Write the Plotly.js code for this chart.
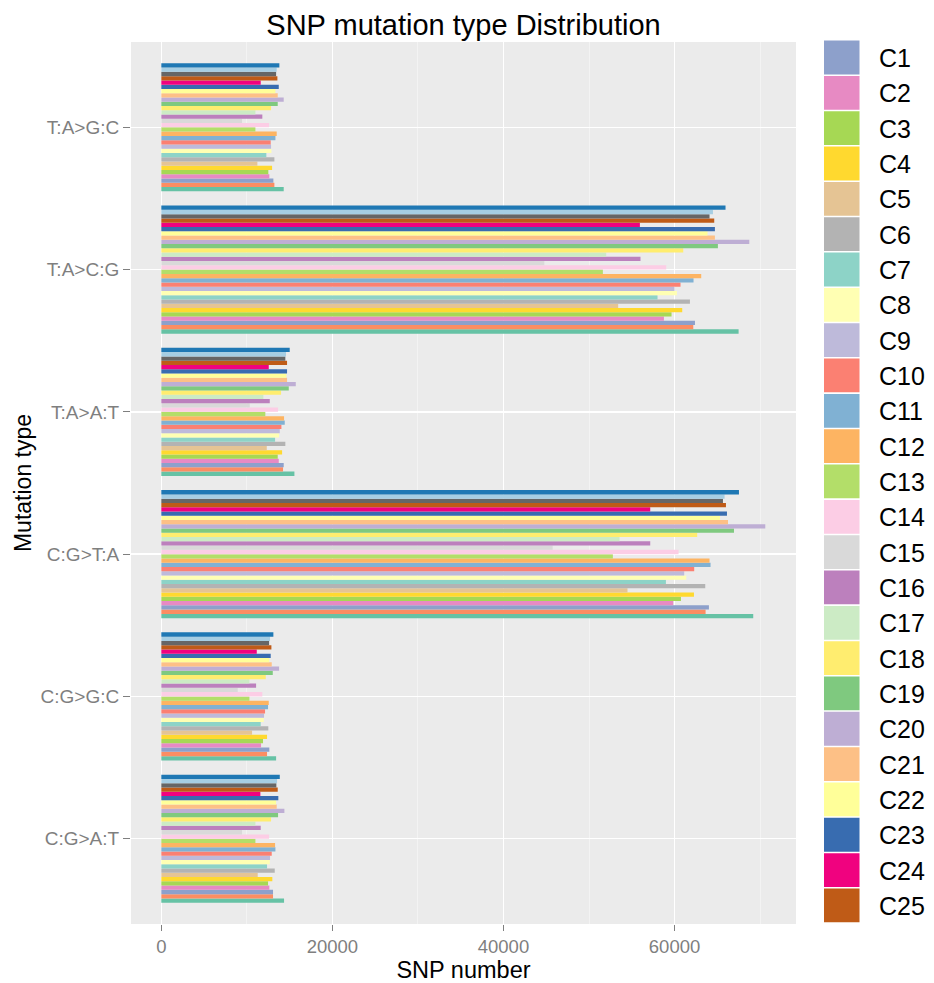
<!DOCTYPE html>
<html>
<head>
<meta charset="utf-8">
<script src="https://cdn.plot.ly/plotly-3.0.1.min.js"></script>
<style>html,body{margin:0;padding:0;background:#fff;}#chart{width:934px;height:983px;}</style>
</head>
<body>
<div id="chart"></div>
<script>
// Mutation types, bottom to top
const categories = ['C:G>A:T', 'C:G>G:C', 'C:G>T:A', 'T:A>A:T', 'T:A>C:G', 'T:A>G:C'];

// Series names (first two and last three are outside the visible legend)
const seriesNames = ['P1', 'P2', 'C1', 'C2', 'C3', 'C4', 'C5', 'C6', 'C7', 'C8', 'C9', 'C10',
  'C11', 'C12', 'C13', 'C14', 'C15', 'C16', 'C17', 'C18', 'C19', 'C20', 'C21', 'C22', 'C23',
  'C24', 'C25', 'C26', 'C27', 'C28'];

// Values per series, in category order above
const vP1  = [14350, 13420, 69200, 15560, 67490, 14310];
const vP2  = [13060, 12360, 63630, 14230, 62190, 13220];
const vC1  = [13060, 12630, 64020, 14310, 62390, 13100];
const vC2  = [12630, 11660, 59850, 13730, 58760, 12630];
const vC3  = [12480, 11890, 60750, 13610, 59650, 12510];
const vC4  = [12980, 12360, 62270, 14120, 60900, 12950];
const vC5  = [11270, 10610, 54500, 12330, 53410, 11230];
const vC6  = [13260, 12510, 63590, 14500, 61800, 13220];
const vC7  = [12360, 11620, 58990, 13300, 58010, 12280];
const vC8  = [12680, 11980, 61370, 13770, 60280, 12870];
const vC9  = [12710, 12010, 61130, 13850, 60000, 12830];
const vC10 = [12910, 12130, 62300, 14040, 60700, 12790];
const vC11 = [13340, 12480, 64210, 14430, 62220, 13340];
const vC12 = [13300, 12560, 64090, 14350, 63120, 13490];
const vC13 = [11000, 10300, 52790, 12160, 51620, 11000];
const vC14 = [12600, 11810, 60470, 13650, 59030, 12600];
const vC15 = [9440, 8930, 45750, 10340, 44780, 9440];
const vC16 = [11620, 11080, 57160, 12680, 56020, 11810];
const vC17 = [11000, 10300, 53570, 11930, 52010, 11000];
const vC18 = [12830, 12210, 62650, 14000, 61020, 12830];
const vC19 = [13650, 13030, 66950, 14900, 65070, 13610];
const vC20 = [14390, 13770, 70610, 15720, 68740, 14310];
const vC21 = [13490, 12910, 66250, 14700, 64720, 13610];
const vC22 = [13420, 12630, 65310, 14620, 63860, 13340];
const vC23 = [13680, 12790, 66130, 14700, 64720, 13730];
const vC24 = [11580, 11160, 57160, 12560, 55950, 11620];
const vC25 = [13610, 12870, 66010, 14700, 64640, 13570];
const vC26 = [13450, 12600, 65660, 14500, 64090, 13420];
const vC27 = [13530, 12710, 65850, 14580, 64490, 13490];
const vC28 = [13850, 13100, 67530, 15010, 65960, 13800];

const seriesValues = [vP1, vP2, vC1, vC2, vC3, vC4, vC5, vC6, vC7, vC8, vC9, vC10, vC11, vC12,
  vC13, vC14, vC15, vC16, vC17, vC18, vC19, vC20, vC21, vC22, vC23, vC24, vC25, vC26, vC27, vC28];

const xTickVals = [0, 20000, 40000, 60000];
const xTickText = ['0', '20000', '40000', '60000'];

// Style: colours per series
const colors = ['#66C2A5', '#FC8D62', '#8DA0CB', '#E78AC3', '#A6D854', '#FFD92F', '#E5C494', '#B3B3B3',
  '#8DD3C7', '#FFFFB3', '#BEBADA', '#FB8072', '#80B1D3', '#FDB462', '#B3DE69', '#FCCDE5', '#D9D9D9',
  '#BC80BD', '#CCEBC5', '#FFED6F', '#7FC97F', '#BEAED4', '#FDC086', '#FFFF99', '#386CB0', '#F0027F',
  '#BF5B17', '#666666', '#A6CEE3', '#1F78B4'];

const legendFirst = 2, legendLast = 26; // indices of C1..C25

const traces = seriesNames.map((nm, i) => ({
  type: 'bar',
  orientation: 'h',
  name: nm,
  y: categories,
  x: seriesValues[i],
  marker: {color: colors[i], line: {width: 0}},
  showlegend: false,
  hoverinfo: 'name+x'
}));

// geometry (px)
const W = 934, H = 983;
const mL = 131, mR = 138, mT = 42, mB = 59;
const pw = W - mL - mR, ph = H - mT - mB;
const px2x = p => (p - mL) / pw;
const py2y = p => (H - mB - p) / ph;

const shapes = [];
const annotations = [];
for (let i = legendFirst; i <= legendLast; i++) {
  const k = i - legendFirst;
  const cy = 57.5 + k * 35.33;
  shapes.push({
    type: 'rect', xref: 'paper', yref: 'paper',
    x0: px2x(824), x1: px2x(859.5), y0: py2y(cy + 16.9), y1: py2y(cy - 16.9),
    fillcolor: colors[i], line: {width: 0}, layer: 'above'
  });
  annotations.push({
    xref: 'paper', yref: 'paper', x: px2x(877), y: py2y(cy + 0.5),
    xanchor: 'left', yanchor: 'middle', showarrow: false,
    text: seriesNames[i],
    font: {family: 'Liberation Sans, Arial, sans-serif', size: 25, color: '#000'}
  });
}

const layout = {
  width: W, height: H,
  margin: {l: mL, r: mR, t: mT, b: mB, pad: 0},
  paper_bgcolor: '#FFFFFF',
  plot_bgcolor: '#EBEBEB',
  font: {family: 'Liberation Sans, Arial, sans-serif', color: '#000'},
  title: {
    text: 'SNP mutation type Distribution',
    font: {size: 29, color: '#000'},
    xref: 'paper', x: 0.5, xanchor: 'center',
    yref: 'container', y: 1 - 25 / H, yanchor: 'middle'
  },
  barmode: 'group',
  bargap: 0.1,
  bargroupgap: 0,
  showlegend: false,
  xaxis: {
    range: [-3544, 74200],
    tickvals: xTickVals, ticktext: xTickText,
    showgrid: true, gridcolor: '#FFFFFF', gridwidth: 1.6,
    minor: {tickvals: [10000, 30000, 50000, 70000], showgrid: true, gridcolor: '#F5F5F5', gridwidth: 0.8, ticks: ''},
    zeroline: false, showline: false,
    ticks: 'outside', ticklen: 6, tickwidth: 1.2, tickcolor: '#7F7F7F',
    ticklabelstandoff: 0,
    tickfont: {size: 18.5, color: '#7F7F7F'},
    title: {text: 'SNP number', font: {size: 23.5, color: '#000'}, standoff: 6},
    fixedrange: true
  },
  yaxis: {
    type: 'category',
    categoryorder: 'array', categoryarray: categories,
    range: [-0.6, 5.6],
    showgrid: true, gridcolor: '#FFFFFF', gridwidth: 1.6,
    zeroline: false, showline: false,
    ticks: 'outside', ticklen: 7, tickwidth: 1.2, tickcolor: '#7F7F7F',
    ticklabelstandoff: 0,
    tickfont: {size: 19, color: '#7F7F7F'},
    title: {text: 'Mutation type', font: {size: 23, color: '#000'}, standoff: 2},
    fixedrange: true
  },
  shapes: shapes,
  annotations: annotations
};

Plotly.newPlot('chart', traces, layout, {displayModeBar: false, staticPlot: true});
</script>
</body>
</html>
